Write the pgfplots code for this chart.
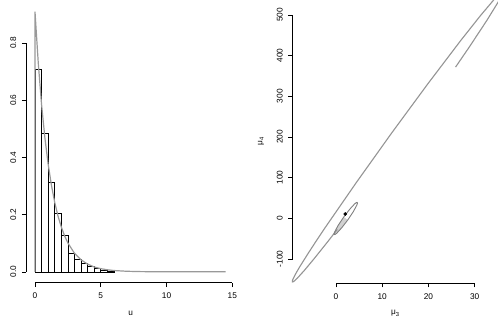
\documentclass[border=0pt]{standalone}
\usepackage{fontspec}
\setmainfont{Liberation Sans}
\usepackage{pgfplots}
\pgfplotsset{compat=1.18}
\definecolor{curvegray}{gray}{0.6}
\definecolor{ellgray}{gray}{0.58}
\definecolor{smallgray}{gray}{0.5}
\definecolor{fillgray}{gray}{0.82}
\pgfplotsset{rstyle/.style={
  scale only axis,
  axis lines*=left,
  axis line style={draw=none,-},
  tick align=outside,
  major tick length=4.5pt,
  every tick/.style={black, line width=0.5pt},
  tick label style={font=\fontsize{8.3}{10}\selectfont},
  /pgf/number format/assume math mode=true,
  xticklabel style={anchor=base, inner sep=0pt},
  xticklabel shift=11.8pt,
  yticklabel style={rotate=90, anchor=base, inner sep=0pt},
  yticklabel shift=5.7pt,
  clip=false,
  label style={font=\fontsize{8.3}{10}\selectfont},
  xlabel style={at={(axis description cs:0.5,0)}, anchor=base, yshift=-33pt, inner sep=0pt},
}}
\begin{document}
\begin{tikzpicture}
\useasboundingbox (0,0) rectangle (498pt,323pt);
% Left panel
\begin{axis}[rstyle,
  at={(26.3pt,40.3pt)}, anchor=south west,
  width=208.6pt, height=282.6pt,
  xmin=-0.66, xmax=15.2, ymin=-0.038, ymax=0.95,
  xtick={0,5,10,15}, ytick={0,0.2,0.4,0.6,0.8},
  yticklabel style={/pgf/number format/fixed, /pgf/number format/fixed zerofill, /pgf/number format/precision=1},
  xlabel={u},
]
\addplot[ybar, bar width=0.5, bar shift=0pt, draw=black, fill=white, line width=0.5pt] coordinates {
 (0.25,0.709) (0.75,0.483) (1.25,0.313) (1.75,0.204) (2.25,0.127) (2.75,0.064) (3.25,0.043)
 (3.75,0.029) (4.25,0.021) (4.75,0.012) (5.25,0.006) (5.75,0.003)
};
\addplot[curvegray, line width=1.2pt, mark=none] coordinates {
 (0,0) (0,0.91) (0.25,0.73) (0.5,0.585) (0.75,0.470) (1,0.377) (1.25,0.303)
 (1.5,0.243) (1.75,0.195) (2,0.157) (2.25,0.126) (2.5,0.101) (3,0.065)
 (3.5,0.042) (4,0.027) (4.5,0.017) (5,0.011) (5.5,0.0072) (6,0.0046)
 (7,0.0019) (8,0.0008) (9,0.0003) (10,0.0001) (12,0) (14.5,0)
};
\draw[black, line width=0.6pt] (axis cs:0,-0.038) -- (axis cs:15,-0.038);
\draw[black, line width=0.6pt] (axis cs:-0.66,0) -- (axis cs:-0.66,0.8);
\end{axis}
% Right panel
\begin{axis}[rstyle,
  at={(292.7pt,40pt)}, anchor=south west,
  width=205.3pt, height=283pt,
  xmin=-9.37, xmax=35.06, ymin=-159, ymax=536.4,
  xtick={0,10,20,30}, ytick={-100,0,100,200,300,400,500},
  xlabel={μ\textsubscript{3}},
  ylabel={μ\textsubscript{4}},
  ylabel style={at={(axis description cs:-0.148,0.5)}, anchor=base, inner sep=0pt},
  xlabel style={yshift=1pt},
]
\addplot[fill=fillgray, draw=none] coordinates {
 (2.55,-4.08) (1.24,-23.38) (0.17,-36.54) (-0.19,-39.63) (-0.39,-40.05)
 (-0.42,-37.77) (-0.27,-32.96) (0.48,-17.18) (1.67,3.08)
} -- cycle;
\addplot[ellgray, line width=1.1pt, mark=none] coordinates {
 (0.28,-27.3) (-1.90,-59.1) (-4.62,-97.7) (-6.78,-127.2) (-8.34,-146.8)
 (-9.04,-154.2) (-9.23,-155.8) (-9.43,-156.3) (-9.45,-154.0) (-9.38,-151.4)
 (-8.97,-141.6) (-8.48,-131.4) (-7.82,-118.6) (-6.02,-86.1) (-4.41,-58.0)
 (-2.25,-21.3) (4.38,87.6) (12.08,210.1) (19.94,331.4) (26.99,436.8)
 (31.24,497.7) (34.26,538.3) (35.49,552.6) (36.05,556.3) (35.91,549.1)
 (35.10,531.4) (32.64,486.1) (28.87,421.3) (25.88,371.6)
};
\addplot[smallgray, line width=0.9pt, mark=none] coordinates {
 (4.61,39.05) (4.64,36.77) (4.49,31.96) (3.74,16.18) (2.55,-4.08) (1.24,-23.38)
 (0.17,-36.54) (-0.19,-39.63) (-0.39,-40.05) (-0.42,-37.77) (-0.27,-32.96)
 (0.48,-17.18) (1.67,3.08) (2.98,22.38) (4.05,35.54) (4.41,38.63) (4.61,39.05)
};
\addplot[only marks, mark=*, mark size=1.6pt, black] coordinates {(2,10.5)};
\draw[black, line width=0.6pt] (axis cs:0,-159) -- (axis cs:30,-159);
\draw[black, line width=0.6pt] (axis cs:-9.37,-100) -- (axis cs:-9.37,500);
\end{axis}
\end{tikzpicture}
\end{document}
